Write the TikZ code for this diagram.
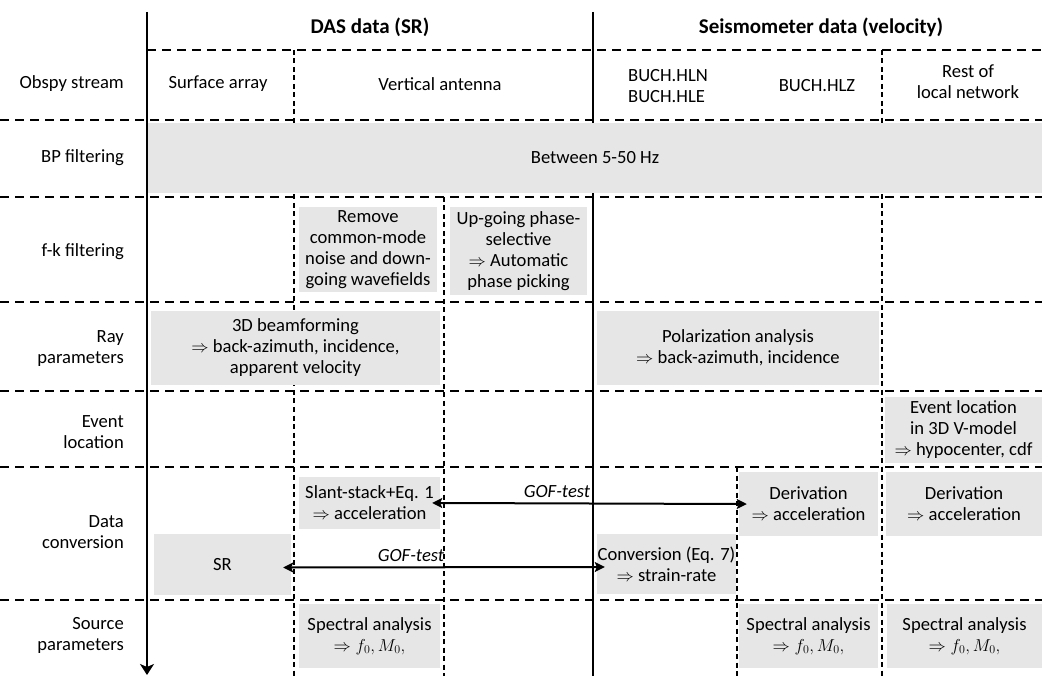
\documentclass[tikz,border=0pt]{standalone}
\usepackage{fontspec}
\setmainfont{Carlito}
\usetikzlibrary{arrows.meta}
\definecolor{boxgray}{RGB}{230,230,230}
\tikzset{
  hdash/.style={line width=1.8pt, dash pattern=on 9pt off 6pt},
  vdash/.style={line width=1.2pt, dash pattern=on 5pt off 3.5pt},
  solidline/.style={line width=1.8pt},
  gbox/.style={fill=boxgray, draw=none, inner sep=0pt, align=center},
  rowlabel/.style={anchor=east, align=right, inner sep=0pt},
  headtext/.style={font=\fontsize{21}{24}\selectfont\bfseries},
  goflabel/.style={font=\fontsize{18.6}{20}\selectfont\itshape, inner sep=0pt},
  gofarrow/.style={line width=2pt, {Stealth[length=10pt,width=10pt,inset=2pt]}-{Stealth[length=10pt,width=10pt,inset=2pt]}, shorten <=-8pt, shorten >=-8pt}
}
\begin{document}
\begin{tikzpicture}[x=1pt,y=-1pt,font=\fontsize{18.6}{21}\selectfont]
\useasboundingbox (0,0) rectangle (1042,676);
% dashed grid
\draw[hdash] (147,50) -- (1042,50);
\foreach \yy in {120,197,302,391,467,600} \draw[hdash] (0,\yy) -- (1042,\yy);
\draw[vdash] (294,50) -- (294,676);
\draw[vdash] (444,197) -- (444,676);
\draw[vdash] (737,467) -- (737,676);
\draw[vdash] (882,50) -- (882,676);
% solid lines
\draw[solidline, -{Stealth[length=11pt,width=14pt,inset=3pt]}] (147,12) -- (147,675);
\draw[solidline] (593,12) -- (593,676);
% headers
\node[headtext] (das) at (370,27) {DAS data (SR)};
\node[headtext] (seis) at (821,27) {Seismometer data (velocity)};
% row labels
\node[rowlabel] (l1) at (124,84) {Obspy stream};
\node[rowlabel] (l2) at (124,158) {BP filtering};
\node[rowlabel] (l3) at (124,252) {f-k filtering};
\node[rowlabel] (l4) at (124,349) {Ray\\parameters};
\node[rowlabel] (l5) at (124,432) {Event\\location};
\node[rowlabel] (l6) at (124,532) {Data\\conversion};
\node[rowlabel] (l7) at (124,635) {Source\\parameters};
% column headers
\node (c1) at (218,84) {Surface array};
\node (c2) at (440,84) {Vertical antenna};
\node[align=left] (c3) at (668,86) {BUCH.HLN\\BUCH.HLE};
\node (c4) at (817,86) {BUCH.HLZ};
\node[align=center] (c5) at (968,82) {Rest of\\local network};
% grey boxes
\node[gbox, minimum width=894pt, minimum height=70pt] (bp) at (595,158) {Between 5-50 Hz};
\node[gbox, minimum width=138pt, minimum height=85pt] (rm) at (368,250) {Remove\\common-mode\\noise and down-\\going wavefields};
\node[gbox, minimum width=137pt, minimum height=88pt] (up) at (518.5,251) {Up-going phase-\\selective\\$\Rightarrow$ Automatic\\phase picking};
\node[gbox, minimum width=289pt, minimum height=74pt] (beam) at (295.5,348) {3D beamforming\\$\Rightarrow$ back-azimuth, incidence,\\apparent velocity};
\node[gbox, minimum width=282pt, minimum height=74pt] (pol) at (738,348) {Polarization analysis\\$\Rightarrow$\ back-azimuth, incidence};
\node[gbox, minimum width=157pt, minimum height=66pt] (evloc) at (963.5,430) {Event location\\in 3D V-model\\$\Rightarrow$\ hypocenter, cdf};
\node[gbox, minimum width=141pt, minimum height=52pt] (slant) at (369.5,503) {Slant-stack+Eq. 1\\$\Rightarrow$\ acceleration};
\node[gbox, minimum width=137pt, minimum height=61pt] (sr) at (222.5,564.5) {SR};
\node[gbox, minimum width=139pt, minimum height=64pt] (der1) at (808.5,504) {Derivation\\$\Rightarrow$\ acceleration};
\node[gbox, minimum width=156pt, minimum height=64pt] (der2) at (964,504) {Derivation\\$\Rightarrow$\ acceleration};
\node[gbox, minimum width=139pt, minimum height=60pt] (conv) at (666.5,564) {Conversion (Eq. 7)\\$\Rightarrow$ strain-rate};
\node[gbox, minimum width=141pt, minimum height=64pt] (sp1) at (369.5,636) {Spectral analysis\\$\Rightarrow f_0, M_0,$};
\node[gbox, minimum width=139pt, minimum height=64pt] (sp2) at (808.5,636) {Spectral analysis\\$\Rightarrow f_0, M_0,$};
\node[gbox, minimum width=155pt, minimum height=64pt] (sp3) at (964.5,636) {Spectral analysis\\$\Rightarrow f_0, M_0,$};
% GOF arrows
\draw[gofarrow] (slant.east) -- (der1.west);
\node[goflabel] (g1) at (557,492) {GOF-test};
\draw[gofarrow] ([yshift=-3pt]sr.east) -- ([yshift=-3pt]conv.west);
\node[goflabel] (g2) at (411,556) {GOF-test};
\end{tikzpicture}
\end{document}
